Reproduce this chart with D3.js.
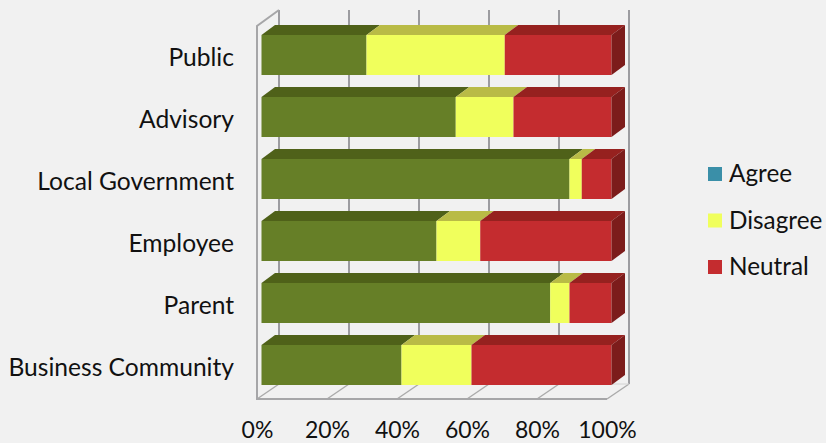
<!DOCTYPE html>
<html>
<head>
<meta charset="utf-8">
<script src="https://cdn.jsdelivr.net/npm/d3@7"></script>
<style>
html, body { margin: 0; padding: 0; background: #f1f1f1; overflow: hidden; }
text { font-family: Lato, sans-serif; fill: #111; }
</style>
</head>
<body>
<svg id="chart" width="826" height="443"></svg>
<script>
const categories = ['Public', 'Advisory', 'Local Government', 'Employee', 'Parent', 'Business Community'];
const seriesNames = ['Agree', 'Disagree', 'Neutral'];
const agree = [30, 55.5, 88, 50, 82.5, 40];
const disagree = [39.5, 16.5, 3.5, 12.5, 5.5, 20];
const neutral = [30.5, 28, 8.5, 37.5, 12, 40];
const xTicks = [0, 20, 40, 60, 80, 100];

// the bars in the picture are green although the legend key for Agree is teal
const frontColors = ['#667f27', '#f0ff5c', '#c42c2f'];
const topColors = ['#4f6119', '#b9bb46', '#96211f'];
const sideColor = '#7c1c1b';
const legendColors = ['#3a8fa8', '#f0ff5c', '#c42c2f'];

const table = categories.map((c, i) => ({ category: c, Agree: agree[i], Disagree: disagree[i], Neutral: neutral[i] }));
const stacked = d3.stack().keys(seriesNames)(table);

const svg = d3.select('#chart');

const x = d3.scaleLinear().domain([0, 100]).range([257, 607]);
const y = d3.scaleBand().domain(categories).range([35, 385]).paddingInner(22 / 62).paddingOuter(0);

const wallDx = 22, wallDy = 15;   // depth of the chart box
const barDx = 13.5, barDy = 10;   // depth of one bar
const barShift = 4.5;             // bars stand a bit behind the front plane
const wallTop = 10, floorY = 399;

// walls and floor
const walls = svg.append('g').attr('fill', 'none');
walls.selectAll('line.grid').data(xTicks).join('line')
    .attr('class', 'grid')
    .attr('x1', d => x(d) + wallDx).attr('x2', d => x(d) + wallDx)
    .attr('y1', wallTop).attr('y2', floorY - wallDy)
    .attr('stroke', '#9c9ca0').attr('stroke-width', 2);
walls.selectAll('line.floor').data(xTicks).join('line')
    .attr('class', 'floor')
    .attr('x1', d => x(d)).attr('x2', d => x(d) + wallDx)
    .attr('y1', floorY).attr('y2', floorY - wallDy)
    .attr('stroke', '#ababab').attr('stroke-width', 1.5);
walls.append('path')
    .attr('d', d3.line()([[x(0) + wallDx, wallTop], [x(0), wallTop + wallDy + 1], [x(0), floorY], [x(100), floorY]]))
    .attr('stroke', '#a6a6a8').attr('stroke-width', 2);
walls.append('line')
    .attr('x1', x(0) + wallDx).attr('x2', x(100) + wallDx)
    .attr('y1', floorY - wallDy).attr('y2', floorY - wallDy)
    .attr('stroke', '#d2d2d2').attr('stroke-width', 1);

// bars
const bars = svg.append('g');
stacked.forEach((s, si) => {
    const g = bars.append('g');
    // top face
    g.selectAll('path.top').data(s).join('path')
        .attr('class', 'top')
        .attr('fill', topColors[si])
        .attr('d', d => {
            const x0 = x(d[0]) + barShift, x1 = x(d[1]) + barShift, t = y(d.data.category);
            return d3.line()([[x0, t], [x0 + barDx, t - barDy], [x1 + barDx, t - barDy], [x1, t]]) + 'Z';
        });
    // front face
    g.selectAll('rect').data(s).join('rect')
        .attr('fill', frontColors[si])
        .attr('x', d => x(d[0]) + barShift)
        .attr('y', d => y(d.data.category))
        .attr('width', d => x(d[1]) - x(d[0]))
        .attr('height', y.bandwidth());
});
// right end of the stack
bars.selectAll('path.side').data(categories).join('path')
    .attr('class', 'side')
    .attr('fill', sideColor)
    .attr('d', c => {
        const r = x(100) + barShift, t = y(c), b = t + y.bandwidth();
        return d3.line()([[r, t], [r + barDx, t - barDy], [r + barDx, b - barDy], [r, b]]) + 'Z';
    });

// axis labels
const xAxis = svg.append('g')
    .attr('transform', `translate(0,${floorY + 20})`)
    .call(d3.axisBottom(x).tickValues(xTicks).tickSize(0).tickFormat(d => d + '%'));
xAxis.select('.domain').remove();
xAxis.selectAll('text').attr('font-size', 23).style('font-family', 'Lato, sans-serif').attr('fill', '#111');

const yAxis = svg.append('g')
    .attr('transform', 'translate(234,3.5)')
    .call(d3.axisLeft(y).tickSize(0).tickPadding(0));
yAxis.select('.domain').remove();
yAxis.selectAll('text').attr('font-size', 24.6).style('font-family', 'Lato, sans-serif').attr('fill', '#111');

// legend
const legendY = d3.scalePoint().domain(seriesNames).range([174, 267]);
const legend = svg.append('g').selectAll('g').data(seriesNames).join('g')
    .attr('transform', d => `translate(708,${legendY(d)})`);
legend.append('rect')
    .attr('x', 0).attr('y', -7).attr('width', 14).attr('height', 14)
    .attr('fill', (d, i) => legendColors[i]);
legend.append('text')
    .attr('x', 21).attr('y', 8)
    .attr('font-size', 24.3)
    .text(d => d);
</script>
</body>
</html>
